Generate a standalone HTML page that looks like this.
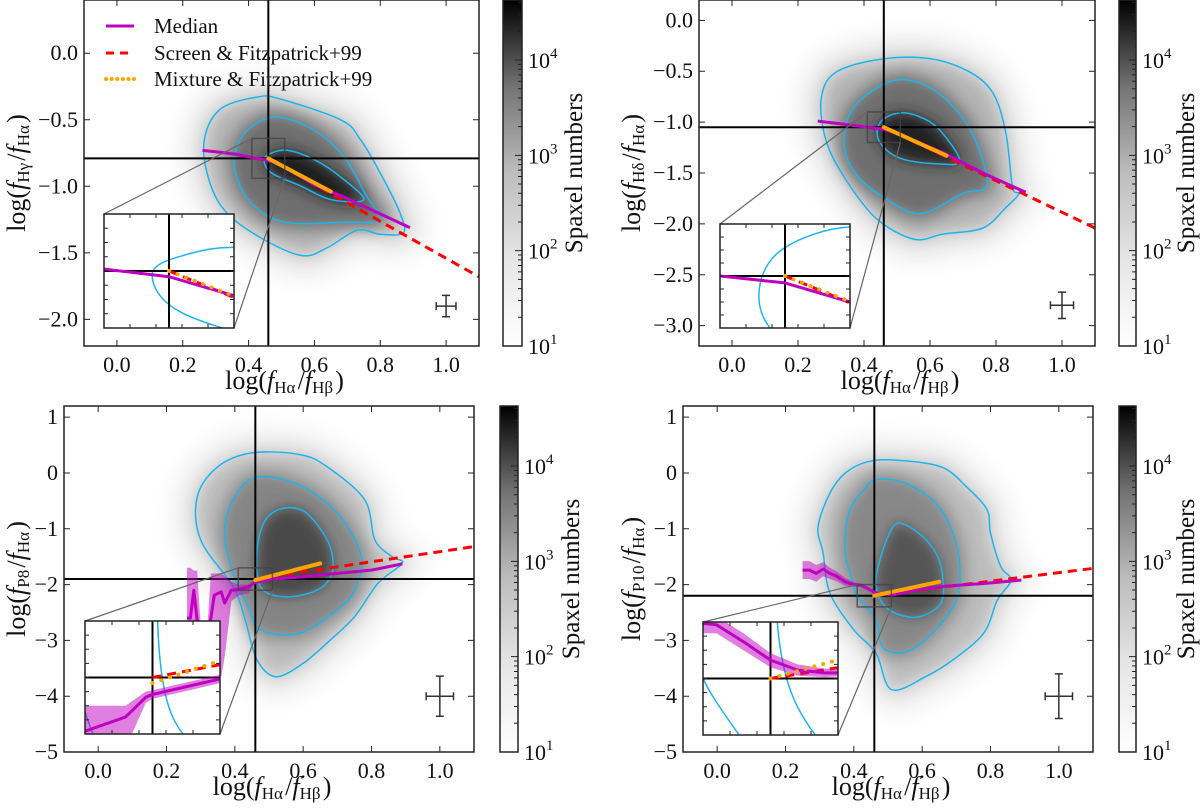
<!DOCTYPE html>
<html><head><meta charset="utf-8"><title>Balmer/Paschen decrement diagrams</title>
<style>
html,body{margin:0;padding:0;background:#fff;overflow:hidden;width:1200px;height:810px;}
svg{display:block;font-family:"Liberation Serif","DejaVu Serif",serif;}
</style></head>
<body>
<svg id="fig" xmlns="http://www.w3.org/2000/svg" width="1200" height="810" viewBox="0 0 1200 810" overflow="hidden">
<defs>
<linearGradient id="cbGrad" x1="0" y1="1" x2="0" y2="0">
<stop offset="0" stop-color="#ffffff"/><stop offset="0.25" stop-color="#e6e6e6"/>
<stop offset="0.5" stop-color="#bdbdbd"/><stop offset="0.75" stop-color="#737373"/>
<stop offset="1" stop-color="#000000"/></linearGradient>
<filter id="blurHalo" x="-40%" y="-40%" width="180%" height="180%"><feGaussianBlur stdDeviation="12"/></filter>
<filter id="blurMid" x="-30%" y="-30%" width="160%" height="160%"><feGaussianBlur stdDeviation="8"/></filter>
<filter id="blurSm" x="-30%" y="-30%" width="160%" height="160%"><feGaussianBlur stdDeviation="7"/></filter>
</defs>
</svg>
<script>
// ---------------- DATA ----------------
const tlCross = [0.46, -0.79];
const trCross = [0.46, -1.05];
const blCross = [0.46, -1.90];
const brCross = [0.46, -2.20];
const tlContourOuter = [[0.425,-0.33],[0.49,-0.34],[0.68,-0.50],[0.74,-0.65],[0.80,-0.90],[0.86,-1.20],[0.87,-1.35],[0.80,-1.36],[0.73,-1.33],[0.64,-1.46],[0.56,-1.52],[0.425,-1.37],[0.32,-1.16],[0.27,-0.86],[0.27,-0.60],[0.32,-0.41]];
const tlContourMiddle = [[0.49,-0.48],[0.60,-0.58],[0.69,-0.78],[0.76,-1.08],[0.80,-1.25],[0.69,-1.27],[0.51,-1.27],[0.41,-1.13],[0.36,-0.90],[0.365,-0.70],[0.41,-0.55]];
const tlContourInner = [[0.52,-0.73],[0.60,-0.80],[0.68,-0.93],[0.75,-1.10],[0.65,-1.10],[0.56,-1.00],[0.47,-0.90],[0.447,-0.80],[0.47,-0.75]];
const trContourOuter = [[0.435,-0.39],[0.585,-0.37],[0.71,-0.49],[0.79,-0.71],[0.83,-1.11],[0.85,-1.64],[0.87,-1.70],[0.83,-1.84],[0.76,-2.04],[0.64,-2.10],[0.55,-2.15],[0.435,-1.94],[0.34,-1.54],[0.285,-1.18],[0.27,-0.78],[0.31,-0.52]];
const trContourMiddle = [[0.49,-0.59],[0.61,-0.68],[0.71,-1.01],[0.76,-1.38],[0.77,-1.64],[0.70,-1.70],[0.57,-1.90],[0.46,-1.74],[0.375,-1.51],[0.34,-1.21],[0.37,-0.85]];
const trContourInner = [[0.505,-0.91],[0.57,-0.95],[0.63,-1.08],[0.69,-1.38],[0.62,-1.41],[0.505,-1.35],[0.445,-1.18],[0.45,-1.00]];
const blContourOuter = [[0.45,0.36],[0.59,0.33],[0.67,0.11],[0.78,-0.48],[0.81,-1.20],[0.86,-1.50],[0.89,-1.62],[0.82,-1.97],[0.75,-2.58],[0.68,-2.99],[0.60,-3.41],[0.52,-3.65],[0.465,-3.35],[0.43,-2.63],[0.395,-2.04],[0.30,-1.20],[0.29,-0.43],[0.35,0.11]];
const blContourMiddle = [[0.465,-0.07],[0.60,-0.25],[0.71,-0.79],[0.77,-1.50],[0.755,-2.04],[0.71,-2.40],[0.59,-2.87],[0.475,-2.81],[0.44,-2.40],[0.395,-1.79],[0.37,-1.08],[0.395,-0.48]];
const blContourInner = [[0.545,-0.63],[0.61,-0.72],[0.675,-1.26],[0.685,-1.79],[0.64,-2.10],[0.545,-2.22],[0.475,-2.04],[0.465,-1.38],[0.49,-0.84]];
const brContourOuter = [[0.44,0.20],[0.52,0.23],[0.655,0.11],[0.73,-0.25],[0.79,-0.66],[0.80,-1.08],[0.83,-1.68],[0.86,-1.92],[0.82,-2.28],[0.78,-2.87],[0.69,-3.35],[0.61,-3.65],[0.51,-3.88],[0.465,-3.23],[0.40,-2.81],[0.33,-2.15],[0.31,-1.43],[0.295,-0.97],[0.33,-0.36],[0.375,0.0]];
const brContourMiddle = [[0.465,-0.12],[0.55,-0.18],[0.64,-0.54],[0.69,-1.08],[0.71,-1.68],[0.70,-2.28],[0.63,-2.87],[0.55,-3.21],[0.485,-3.12],[0.465,-2.63],[0.41,-2.20],[0.395,-1.90],[0.375,-1.43],[0.385,-0.72],[0.43,-0.30]];
const brContourInner = [[0.53,-0.90],[0.59,-1.08],[0.64,-1.43],[0.66,-1.86],[0.655,-2.33],[0.59,-2.58],[0.52,-2.51],[0.48,-2.30],[0.465,-2.00],[0.47,-1.70],[0.50,-1.14]];
const tlMedianX = [0.26,0.30,0.365,0.41,0.46,0.51,0.60,0.68,0.785,0.89];
const tlMedianY = [-0.73,-0.74,-0.76,-0.785,-0.805,-0.855,-0.99,-1.07,-1.19,-1.31];
const trMedianX = [0.26,0.34,0.41,0.46,0.51,0.64,0.76,0.89];
const trMedianY = [-0.99,-1.02,-1.05,-1.07,-1.125,-1.30,-1.50,-1.69];
const blMedianX = [0.26,0.27,0.28,0.29,0.30,0.32,0.33,0.34,0.36,0.37,0.39,0.41,0.44,0.455,0.46,0.51,0.60,0.70,0.80,0.89];
const blMedianY = [-2.6,-2.6,-2.1,-2.65,-2.9,-2.9,-2.6,-2.19,-2.13,-2.33,-2.1,-2.09,-2.04,-1.97,-1.96,-1.905,-1.86,-1.80,-1.74,-1.63];
const blBandHi = [-1.7,-1.7,-1.75,-1.75,-2.75,-2.75,-1.8,-1.8,-1.8,-1.85,-1.95,-2.0,-2.0,-1.95,-1.945,-1.89,-1.845,-1.785,-1.725,-1.61];
const blBandLo = [-3.0,-3.0,-2.9,-3.0,-3.1,-3.1,-3.2,-3.5,-3.65,-3.3,-2.3,-2.2,-2.15,-1.99,-1.975,-1.92,-1.875,-1.815,-1.755,-1.65];
const brMedianX = [0.25,0.27,0.29,0.31,0.33,0.35,0.375,0.40,0.42,0.44,0.46,0.48,0.50,0.52,0.58,0.665,0.78,0.89];
const brMedianY = [-1.74,-1.74,-1.80,-1.72,-1.80,-1.85,-1.95,-2.00,-2.01,-2.07,-2.135,-2.17,-2.18,-2.18,-2.10,-2.03,-1.98,-1.92];
const brBandHi = [-1.58,-1.58,-1.65,-1.60,-1.70,-1.76,-1.88,-1.96,-1.98,-2.04,-2.11,-2.15,-2.165,-2.17,-2.09,-2.02,-1.97,-1.90];
const brBandLo = [-1.90,-1.90,-1.95,-1.85,-1.90,-1.94,-2.02,-2.04,-2.04,-2.10,-2.16,-2.19,-2.195,-2.19,-2.11,-2.04,-1.99,-1.94];
const tlScreenX = [0.46,1.1], tlScreenY = [-0.79,-1.68];
const tlMixX = [0.46,0.65], tlMixY = [-0.79,-1.04];
const trScreenX = [0.46,1.1], trScreenY = [-1.05,-2.04];
const trMixX = [0.46,0.65], trMixY = [-1.05,-1.33];
const blScreenX = [0.46,1.1], blScreenY = [-1.90,-1.32];
const blMixX = [0.46,0.65], blMixY = [-1.92,-1.62];
const brScreenX = [0.46,1.1], brScreenY = [-2.20,-1.71];
const brMixX = [0.46,0.65], brMixY = [-2.20,-1.95];
const tlErr = [1.0,-1.9,0.03,0.08];
const trErr = [1.0,-2.8,0.035,0.13];
const blErr = [1.0,-4.0,0.04,0.36];
const brErr = [1.0,-4.0,0.04,0.40];
const xTicks = [0.0,0.2,0.4,0.6,0.8,1.0];
const tlYTicks = [0.0,-0.5,-1.0,-1.5,-2.0];
const trYTicks = [0.0,-0.5,-1.0,-1.5,-2.0,-2.5,-3.0];
const botYTicks = [1,0,-1,-2,-3,-4,-5];
const cbDecades = [1,2,3,4];
const legendLabels = ['Median','Screen & Fitzpatrick+99','Mixture & Fitzpatrick+99'];

// ---------------- RENDERING ----------------
const NS = 'http://www.w3.org/2000/svg';
const svg = document.getElementById('fig');
function mk(tag, parent){ const e = document.createElementNS(NS, tag); (parent||svg).appendChild(e); return e; }
function attrs(e, o){ for (const k in o) e.setAttribute(k, o[k]); return e; }
function smooth(pts){
  const n = pts.length; let d = 'M'+pts[0][0].toFixed(1)+','+pts[0][1].toFixed(1);
  for (let i=0;i<n;i++){
    const p0=pts[(i-1+n)%n], p1=pts[i], p2=pts[(i+1)%n], p3=pts[(i+2)%n];
    const c1=[p1[0]+(p2[0]-p0[0])/6, p1[1]+(p2[1]-p0[1])/6];
    const c2=[p2[0]-(p3[0]-p1[0])/6, p2[1]-(p3[1]-p1[1])/6];
    d += 'C'+c1[0].toFixed(1)+','+c1[1].toFixed(1)+' '+c2[0].toFixed(1)+','+c2[1].toFixed(1)+' '+p2[0].toFixed(1)+','+p2[1].toFixed(1);
  }
  return d+'Z';
}
function polyD(xs, ys, sx, sy){ return xs.map((x,i)=>(i?'L':'M')+sx(x).toFixed(1)+','+sy(ys[i]).toFixed(1)).join(''); }
function fmt(v, dec){ const s = Math.abs(v).toFixed(dec); return (v<0?'\u2212':'')+s; }

function mathLabel(parent, num, den){
  const t = mk('text', parent);
  t.appendChild(document.createTextNode('log('));
  [num, den].forEach((sub,i)=>{
    if (i===1){ const s = mk('tspan', t); s.textContent='/'; }
    const f = mk('tspan', t); attrs(f,{'font-style':'italic'}); f.textContent='f';
    const sb = mk('tspan', t); attrs(sb,{'font-size':'17','dy':'4'}); sb.textContent=sub;
    const back = mk('tspan', t); attrs(back,{'dy':'-4'}); back.textContent='\u200A';
  });
  const c = mk('tspan', t); c.textContent=')';
  return t;
}

const panels = [
 {id:'tl', box:{l:84,r:479,t:0,b:346}, yr:[-2.2,0.4], yTicks:tlYTicks, dec:1, cb:{l:503,r:522}, inset:{l:104,r:234,t:214,b:328}, iy:[-0.94,-0.64],
  cross:tlCross, outer:tlContourOuter, middle:tlContourMiddle, inner:tlContourInner, mx:tlMedianX, my:tlMedianY, hi:null, lo:null,
  sx:tlScreenX, sy:tlScreenY, mxx:tlMixX, mxy:tlMixY, err:tlErr, num:'H\u03B3', ylx:16, cblx:573, shade:['#e8e8e8','#b4b4b4','#6e6e6e','#1e1e1e'], legend:true},
 {id:'tr', box:{l:699,r:1095,t:0,b:346}, yr:[-3.2,0.2], yTicks:trYTicks, dec:1, cb:{l:1119,r:1136}, inset:{l:720,r:850,t:224,b:328}, iy:[-1.2,-0.9],
  cross:trCross, outer:trContourOuter, middle:trContourMiddle, inner:trContourInner, mx:trMedianX, my:trMedianY, hi:null, lo:null,
  sx:trScreenX, sy:trScreenY, mxx:trMixX, mxy:trMixY, err:trErr, num:'H\u03B4', ylx:631, cblx:1185, shade:['#e8e8e8','#b4b4b4','#6e6e6e','#222222'], legend:false},
 {id:'bl', box:{l:64,r:474,t:406,b:752}, yr:[-5,1.2], yTicks:botYTicks, dec:0, cb:{l:500,r:518}, inset:{l:85,r:220,t:621,b:734}, iy:[-2.1,-1.7],
  cross:blCross, outer:blContourOuter, middle:blContourMiddle, inner:blContourInner, mx:blMedianX, my:blMedianY, hi:blBandHi, lo:blBandLo,
  sx:blScreenX, sy:blScreenY, mxx:blMixX, mxy:blMixY, err:blErr, num:'P8', ylx:16, cblx:570, shade:['#eaeaea','#bcbcbc','#858585','#4a4a4a'], legend:false},
 {id:'br', box:{l:683,r:1093,t:406,b:752}, yr:[-5,1.2], yTicks:botYTicks, dec:0, cb:{l:1119,r:1136}, inset:{l:703,r:838,t:622,b:735}, iy:[-2.4,-2.0],
  cross:brCross, outer:brContourOuter, middle:brContourMiddle, inner:brContourInner, mx:brMedianX, my:brMedianY, hi:brBandHi, lo:brBandLo,
  sx:brScreenX, sy:brScreenY, mxx:brMixX, mxy:brMixY, err:brErr, num:'P10', ylx:631, cblx:1185, shade:['#eaeaea','#bcbcbc','#888888','#555555'], legend:false}
];

const XR = [-0.1, 1.1], IXR = [0.41, 0.51];
const PURPLE = '#bf00bf', BLUE = '#1db4ee';

function drawLayers(g, P, X, Y, inset, ext){
  [P.outer, P.middle, P.inner].forEach((c, k)=>{
    const p = mk('path', g);
    attrs(p,{d:smooth(c.map(q=>[X(q[0]),Y(q[1])])), fill:'none', stroke:BLUE, 'stroke-width':1.5});
    
    
  });
  const vl = mk('line', g);
  attrs(vl,{x1:X(P.cross[0]),x2:X(P.cross[0]),y1:ext.t,y2:ext.b,stroke:'#000','stroke-width':2});
  
  
  const hl = mk('line', g);
  attrs(hl,{x1:ext.l,x2:ext.r,y1:Y(P.cross[1]),y2:Y(P.cross[1]),stroke:'#000','stroke-width':2});
  
  
  const sl = mk('path', g);
  attrs(sl,{d:polyD(P.sx,P.sy,X,Y), fill:'none', stroke:'#ff0000','stroke-width':3,'stroke-dasharray':'9,6'});
  
  
  if (P.hi){
    const d = polyD(P.mx,P.hi,X,Y) + P.mx.slice().reverse().map((x,i)=>'L'+X(x).toFixed(1)+','+Y(P.lo[P.lo.length-1-i]).toFixed(1)).join('') + 'Z';
    const b = mk('path', g);
    attrs(b,{d:d, fill:'#bf00bf', 'fill-opacity':0.5, stroke:'none'});
    
    
  }
  const ml = mk('path', g);
  attrs(ml,{d:polyD(P.mx,P.my,X,Y), fill:'none', stroke:PURPLE,'stroke-width':3,'stroke-linejoin':'round'});
  
  
  const ol = mk('path', g);
  if (inset) attrs(ol,{d:polyD(P.mxx,P.mxy,X,Y), fill:'none', stroke:'#ffa500','stroke-width':4,'stroke-dasharray':'0.1,9','stroke-linecap':'round'});
  else attrs(ol,{d:polyD(P.mxx,P.mxy,X,Y), fill:'none', stroke:'#ffa500','stroke-width':4,'stroke-linecap':'round'});
  
  
}

panels.forEach(P=>{
  const B = P.box;
  const X = v => B.l + (v - XR[0])/(XR[1]-XR[0])*(B.r-B.l);
  const Y = v => B.b - (v - P.yr[0])/(P.yr[1]-P.yr[0])*(B.b-B.t);
  const G = mk('g');  
  const cp = mk('clipPath', G); cp.id = 'clip-'+P.id;
  attrs(mk('rect', cp),{x:B.l,y:B.t,width:B.r-B.l,height:B.b-B.t});
  const clipped = mk('g', G); clipped.setAttribute('clip-path','url(#clip-'+P.id+')');
  
  
  const hm = mk('g', clipped);  
  const od = smooth(P.outer.map(q=>[X(q[0]),Y(q[1])]));
  attrs(mk('path', hm),{d:od, fill:P.shade[0], stroke:P.shade[0], 'stroke-width':40, filter:'url(#blurHalo)'});
  attrs(mk('path', hm),{d:od, fill:P.shade[1], stroke:'#d4d4d4','stroke-width':6, filter:'url(#blurMid)'});
  attrs(mk('path', hm),{d:smooth(P.middle.map(q=>[X(q[0]),Y(q[1])])), fill:P.shade[2], stroke:P.shade[2],'stroke-width':10, filter:'url(#blurMid)'});
  attrs(mk('path', hm),{d:smooth(P.inner.map(q=>[X(q[0]),Y(q[1])])), fill:P.shade[3], filter:'url(#blurSm)'});
  drawLayers(clipped, P, X, Y, false, B);
  const zr = mk('rect', clipped);
  attrs(zr,{x:X(IXR[0]),y:Y(P.iy[1]),width:X(IXR[1])-X(IXR[0]),height:Y(P.iy[0])-Y(P.iy[1]),fill:'none',stroke:'#444','stroke-width':1.5,'stroke-opacity':0.8});
  
  
  const e = P.err; const eg = mk('g', clipped);
   
  const ex0=X(e[0]-e[2]), ex1=X(e[0]+e[2]), ey0=Y(e[1]-e[3]), ey1=Y(e[1]+e[3]), cx=X(e[0]), cy=Y(e[1]);
  const ed = 'M'+ex0+','+cy+'L'+ex1+','+cy+'M'+cx+','+ey0+'L'+cx+','+ey1+'M'+ex0+','+(cy-4)+'L'+ex0+','+(cy+4)+'M'+ex1+','+(cy-4)+'L'+ex1+','+(cy+4)+'M'+(cx-4)+','+ey0+'L'+(cx+4)+','+ey0+'M'+(cx-4)+','+ey1+'L'+(cx+4)+','+ey1;
  attrs(mk('path', eg),{d:ed, stroke:'#333','stroke-width':1.5, fill:'none'});
  const I = P.inset;
  const c1 = mk('line', G); attrs(c1,{x1:X(IXR[0]),y1:Y(P.iy[1]),x2:I.l,y2:I.t,stroke:'#666','stroke-width':1.2});
   
  const c2 = mk('line', G); attrs(c2,{x1:X(IXR[1]),y1:Y(P.iy[0]),x2:I.r,y2:I.b,stroke:'#666','stroke-width':1.2});
   
  const fr = mk('rect', G); attrs(fr,{x:B.l,y:B.t,width:B.r-B.l,height:B.b-B.t,fill:'none',stroke:'#222','stroke-width':1.5});
   
  const tg = mk('g', G);  
  xTicks.forEach(v=>{
    const x = X(v);
    attrs(mk('path', tg),{d:'M'+x+','+B.b+'v-6M'+x+','+B.t+'v6',stroke:'#222','stroke-width':1});
    const t = mk('text', tg); attrs(t,{x:x,y:B.b+26,'text-anchor':'middle','font-size':22,fill:'#111'}); t.textContent = v.toFixed(1);
     
  });
  const yg = mk('g', G);  
  P.yTicks.forEach(v=>{
    const y = Y(v);
    attrs(mk('path', yg),{d:'M'+B.l+','+y+'h6M'+B.r+','+y+'h-6',stroke:'#222','stroke-width':1});
    const t = mk('text', yg); attrs(t,{x:B.l-6,y:y+7,'text-anchor':'end','font-size':22,fill:'#111'}); t.textContent = fmt(v,P.dec);
     
  });
  const xl = mathLabel(G, 'H\u03B1', 'H\u03B2');
  attrs(xl,{x:(B.l+B.r)/2+3,y:B.b+43,'text-anchor':'middle','font-size':26,fill:'#111'});
   
  const ylg = mk('g', G); ylg.setAttribute('transform','translate('+(P.ylx+9)+','+((B.t+B.b)/2)+') rotate(-90)');
  const yl = mathLabel(ylg, P.num, 'H\u03B1');
  attrs(yl,{x:0,y:0,'text-anchor':'middle','font-size':26,fill:'#111'});
   
  const ig = mk('g', G);  
  attrs(mk('rect', ig),{x:I.l,y:I.t,width:I.r-I.l,height:I.b-I.t,fill:'#fff'});
  const icp = mk('clipPath', ig); icp.id = 'iclip-'+P.id;
  attrs(mk('rect', icp),{x:I.l,y:I.t,width:I.r-I.l,height:I.b-I.t});
  const ic = mk('g', ig); ic.setAttribute('clip-path','url(#iclip-'+P.id+')');
  const IX = v => I.l + (v-IXR[0])/(IXR[1]-IXR[0])*(I.r-I.l);
  const IY = v => I.b - (v-P.iy[0])/(P.iy[1]-P.iy[0])*(I.b-I.t);
  drawLayers(ic, P, IX, IY, true, I);
  let itd = '';
  for (let k=1;k<5;k++){ const x = I.l + k*(I.r-I.l)/5; itd += 'M'+x+','+I.t+'v4M'+x+','+I.b+'v-4'; }
  for (let k=1;k<8;k++){ const y = I.t + k*(I.b-I.t)/8; itd += 'M'+I.l+','+y+'h4M'+I.r+','+y+'h-4'; }
  attrs(mk('path', ig),{d:itd, stroke:'#222','stroke-width':1});
  attrs(mk('rect', ig),{x:I.l,y:I.t,width:I.r-I.l,height:I.b-I.t,fill:'none',stroke:'#222','stroke-width':1.5});
  const C = P.cb; const cg = mk('g', G);  
  attrs(mk('rect', cg),{x:C.l,y:B.t,width:C.r-C.l,height:B.b-B.t,fill:'url(#cbGrad)',stroke:'#222','stroke-width':1.5});
  const cTop = 4.63, cBot = 1;
  const CY = v => B.b - (v-cBot)/(cTop-cBot)*(B.b-B.t);
  let ctd = '';
  cbDecades.forEach(d=>{
    const y = CY(d); ctd += 'M'+C.r+','+y+'h-7';
    const t = mk('text', cg); attrs(t,{x:C.r+6,y:Math.min(y+8,804),'font-size':22,fill:'#111'});
    t.textContent = '10';
    const sp = mk('tspan', t); attrs(sp,{'font-size':15,dy:-10}); sp.textContent = String(d);
     
    for (let m=2;m<10;m++){ const v = d+Math.log10(m); if (v<cTop) ctd += 'M'+C.r+','+CY(v)+'h-4'; }
  });
  attrs(mk('path', cg),{d:ctd, stroke:'#222','stroke-width':1});
  const cl = mk('text', cg);
  attrs(cl,{transform:'translate('+(P.cblx+9)+','+((B.t+B.b)/2)+') rotate(-90)','text-anchor':'middle','font-size':25,fill:'#111'});
  cl.textContent = 'Spaxel numbers';
   
  if (P.legend){
    const lg = mk('g', G);  
    const rows = [26,53,79];
    const styles = [{stroke:PURPLE,'stroke-width':3},{stroke:'#ff0000','stroke-width':3,'stroke-dasharray':'8,6'},{stroke:'#ffa500','stroke-width':4,'stroke-dasharray':'0.1,5.5','stroke-linecap':'round'}];
    legendLabels.forEach((lab,i)=>{
      const en = mk('g', lg);
      
      
      const l = mk('line', en); attrs(l,{x1:106,x2:134,y1:rows[i],y2:rows[i]}); attrs(l, styles[i]);
      const t = mk('text', en); attrs(t,{x:154,y:rows[i]+7,'font-size':21,fill:'#111'}); t.textContent = lab;
    });
  }
});
</script>
</body></html>
